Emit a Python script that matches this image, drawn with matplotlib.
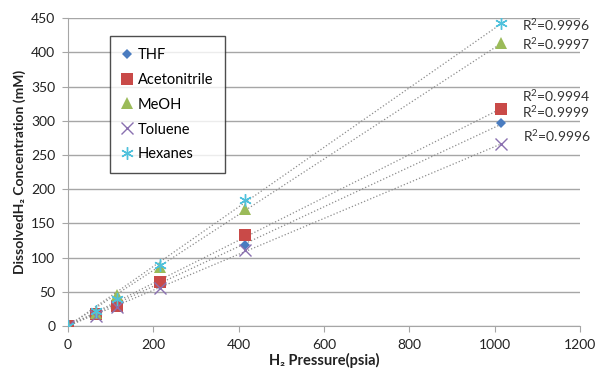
import numpy as np
import matplotlib
matplotlib.use('Agg')
import matplotlib.pyplot as plt

plt.rcParams['font.family'] = ['Lato', 'DejaVu Sans']
plt.rcParams['mathtext.fontset'] = 'custom'
plt.rcParams['mathtext.rm'] = 'Lato'

# data
pressure = [0, 65, 115, 215, 415, 1015]
thf = [0, 17, 30, 60, 118, 297]
acetonitrile = [0, 17, 30, 65, 133, 318]
meoh = [0, 19, 45, 87, 171, 413]
toluene = [0, 15, 28, 55, 111, 266]
hexanes = [0, 22, 40, 89, 184, 443]

names = ['THF', 'Acetonitrile', 'MeOH', 'Toluene', 'Hexanes']
series = [thf, acetonitrile, meoh, toluene, hexanes]

# R^2 labels as they sit on the chart (top to bottom)
r2_text = ['R$^2$=0.9996', 'R$^2$=0.9997', 'R$^2$=0.9994', 'R$^2$=0.9999', 'R$^2$=0.9996']
r2_x = [1064, 1064, 1064, 1064, 1066]
r2_y = [440, 412, 337, 313, 278]

colors = ['#4a7cc0', '#c94a48', '#9bbb59', '#8a70b0', '#4fc1dc']
markers = ['D', 's', '^', 'x', (6, 2, 0)]
sizes = [5.5, 8, 8, 8, 9]

fig = plt.figure(figsize=(5.95, 3.71), dpi=100)
ax = fig.add_axes([0.114, 0.121, 0.861, 0.830])

x = np.array(pressure, dtype=float)
for vals, name, c, m, s in zip(series, names, colors, markers, sizes):
    y = np.array(vals, dtype=float)
    # linear trendline through origin
    k = np.sum(x * y) / np.sum(x * x)
    xx = np.array([0, x.max()])
    ax.plot(xx, k * xx, ls=':', color='#8c8c8c', lw=0.9, zorder=2)
    mew = 1.0 if m in ('x', (6, 2, 0)) else 0
    ax.plot(x, y, ls='none', marker=m, color=c, ms=s, mew=mew,
            label=name, zorder=3)

for tx, ty, t in zip(r2_x, r2_y, r2_text):
    ax.text(tx, ty, t, fontsize=10, color='#333333', va='center', ha='left')

ax.set_xlim(0, 1200)
ax.set_ylim(0, 450)
ax.set_xticks(np.arange(0, 1201, 200))
ax.set_yticks(np.arange(0, 451, 50))
ax.grid(axis='y', color='#a6a6a6', lw=1.0)
ax.set_axisbelow(True)
for sp in ['top', 'right']:
    ax.spines[sp].set_visible(False)
for sp in ['left', 'bottom']:
    ax.spines[sp].set_color('#a6a6a6')
ax.tick_params(axis='x', direction='out', length=4, color='#a6a6a6',
               labelsize=10, labelcolor='#222222', pad=5)
ax.tick_params(axis='y', direction='out', length=4, color='#a6a6a6',
               labelsize=10, labelcolor='#222222', pad=5)

ax.set_xlabel('H₂ Pressure(psia)', fontsize=10.5, fontweight='bold',
              color='#222222', labelpad=2)
ax.set_ylabel('DissolvedH₂ Concentration (mM)', fontsize=10,
              fontweight='bold', color='#222222', labelpad=4)

leg = ax.legend(loc='upper left', bbox_to_anchor=(0.082, 0.942), fontsize=10.5,
                frameon=True, fancybox=False, edgecolor='#222222',
                handlelength=0.8, handletextpad=0.3, labelspacing=0.75,
                borderpad=0.8, borderaxespad=0)
leg.get_frame().set_linewidth(1.0)

fig.savefig('out.png', dpi=100)
